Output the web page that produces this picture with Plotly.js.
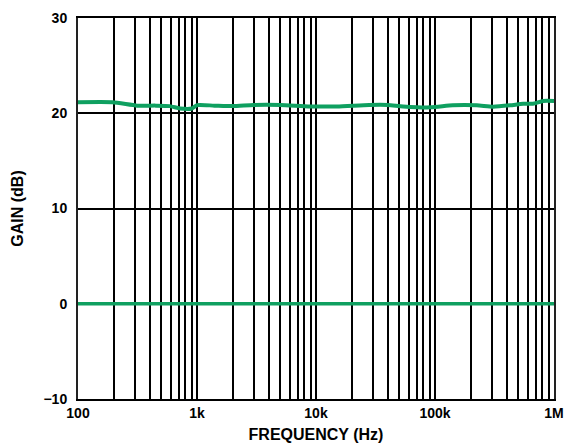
<!DOCTYPE html>
<html>
<head>
<meta charset="utf-8">
<script src="https://cdn.plot.ly/plotly-3.0.1.min.js"></script>
<style>html,body{margin:0;padding:0;background:#fff;}#chart{width:564px;height:443px;}</style>
</head>
<body>
<div id="chart"></div>
<script>
// Upper gain curve (dB) vs frequency (Hz)
const freqHigh = [100, 195, 314, 450, 590, 720, 905, 1000, 1400, 2000, 3000, 5000, 8900, 15000, 28000, 40000, 54000, 91000, 141000, 224000, 308000, 427000, 550000, 665000, 810000, 1000000];
const gainHigh = [21.15, 21.15, 20.8, 20.8, 20.75, 20.5, 20.5, 20.85, 20.8, 20.75, 20.87, 20.87, 20.72, 20.72, 20.87, 20.87, 20.72, 20.62, 20.83, 20.83, 20.69, 20.83, 21.0, 21.0, 21.29, 21.29];
// Lower gain curve (0 dB)
const freqLow = [100, 1000, 10000, 100000, 1000000];
const gainLow = [0, 0, 0, 0, 0];
// Axis ticks
const xTickVals = [100, 1000, 10000, 100000, 1000000];
const xTickText = ['100', '1k', '10k', '100k', '1M'];
const yTickVals = [-10, 0, 10, 20, 30];

const green = '#0fa060';
const traces = [
  {x: freqHigh, y: gainHigh, mode: 'lines', line: {color: green, width: 4, shape: 'spline', smoothing: 0.6}, hoverinfo: 'skip'},
  {x: freqLow, y: gainLow, mode: 'lines', line: {color: green, width: 3.5}, hoverinfo: 'skip'}
];
const tickFont = {family: 'Liberation Sans, Arial, sans-serif', size: 14, color: '#000', weight: 'bold'};
const titleFont = {family: 'Liberation Sans, Arial, sans-serif', size: 16, color: '#000', weight: 'bold'};
const layout = {
  width: 564, height: 443,
  margin: {l: 78, r: 10, t: 18, b: 44},
  paper_bgcolor: '#fff', plot_bgcolor: '#fff',
  showlegend: false,
  xaxis: {
    type: 'log', range: [2, 6],
    tickvals: xTickVals, ticktext: xTickText,
    tickfont: tickFont, ticks: '',
    showgrid: true, gridcolor: '#000', gridwidth: 2,
    minor: {dtick: 'D1', showgrid: true, gridcolor: '#000', gridwidth: 2, ticks: ''},
    showline: true, mirror: true, linecolor: '#000', linewidth: 2,
    zeroline: false,
    title: {text: 'FREQUENCY (Hz)', font: titleFont, standoff: 9}
  },
  yaxis: {
    range: [-10, 30],
    tickvals: yTickVals,
    tickfont: tickFont, ticks: 'outside', ticklen: 6, tickcolor: 'rgba(0,0,0,0)',
    showgrid: true, gridcolor: '#000', gridwidth: 2,
    showline: true, mirror: true, linecolor: '#222', linewidth: 2,
    zeroline: false,
    title: {text: 'GAIN (dB)', font: titleFont, standoff: 16}
  }
};
Plotly.newPlot('chart', traces, layout, {displayModeBar: false, staticPlot: true});
</script>
</body>
</html>
